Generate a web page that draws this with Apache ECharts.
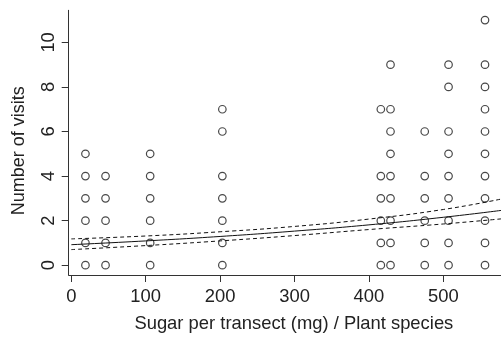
<!DOCTYPE html>
<html>
<head>
<meta charset="utf-8">
<script src="https://cdn.jsdelivr.net/npm/echarts@6/dist/echarts.min.js"></script>
<style>
  html, body { margin: 0; padding: 0; background: #fff; }
  #chart { width: 501px; height: 338px; }
</style>
</head>
<body>
<div id="chart"></div>
<script>
// sugar per transect (x) of each plant species column
const sugar = [19, 46, 106, 203, 416, 429, 475, 507, 556];
// number of visits observed in each column
const visits = [
  [0, 1, 2, 3, 4, 5],
  [0, 1, 2, 3, 4],
  [0, 1, 2, 3, 4, 5],
  [0, 1, 2, 3, 4, 6, 7],
  [0, 1, 2, 3, 4, 7],
  [0, 1, 2, 3, 4, 5, 6, 7, 9],
  [0, 1, 2, 3, 4, 6],
  [0, 1, 2, 3, 4, 5, 6, 8, 9],
  [0, 1, 2, 3, 4, 5, 6, 7, 8, 9, 11]
];
// fitted curve and confidence band
const fitX = [0, 100, 200, 300, 400, 500, 578];
const fitMean = [0.92, 1.09, 1.29, 1.53, 1.81, 2.15, 2.46];
const fitUpper = [1.18, 1.31, 1.50, 1.74, 2.07, 2.50, 2.97];
const fitLower = [0.70, 0.88, 1.09, 1.33, 1.60, 1.85, 2.08];
const xTicks = [0, 100, 200, 300, 400, 500];
const yTicks = [0, 2, 4, 6, 8, 10];

const font = 'Liberation Sans, Arial, sans-serif';
const axisColor = '#333';

let points = [];
sugar.forEach((x, i) => {
  visits[i].forEach(v => points.push([x, v]));
});

function pairs(ys) {
  return fitX.map((x, i) => [x, ys[i]]);
}

let option = {
  animation: false,
  grid: {
    left: 68.7,
    top: 10.3,
    width: 437.5,
    height: 267.3
  },
  xAxis: {
    type: 'value',
    min: -3.5,
    max: 577.5,
    name: 'Sugar per transect (mg) / Plant species',
    nameLocation: 'middle',
    nameGap: 40,
    nameTextStyle: {
      fontFamily: font,
      fontSize: 18.4,
      color: '#222',
      padding: [0, 0, 0, 18]
    },
    splitLine: { show: false },
    axisLine: { onZero: false, lineStyle: { color: axisColor, width: 1 } },
    axisTick: {
      length: 7,
      lineStyle: { color: axisColor },
      customValues: xTicks
    },
    axisLabel: {
      fontFamily: font,
      fontSize: 18.4,
      color: '#222',
      margin: 13,
      customValues: xTicks
    }
  },
  yAxis: {
    type: 'value',
    min: -0.44,
    max: 11.44,
    name: 'Number of visits',
    nameLocation: 'middle',
    nameGap: 41,
    nameRotate: 90,
    nameTextStyle: {
      fontFamily: font,
      fontSize: 18,
      color: '#222',
      padding: [0, 16, 0, 0]
    },
    splitLine: { show: false },
    axisLine: { show: true, onZero: false, lineStyle: { color: axisColor, width: 1 } },
    axisTick: {
      show: true,
      length: 7,
      lineStyle: { color: axisColor },
      customValues: yTicks
    },
    axisLabel: {
      fontFamily: font,
      fontSize: 18.4,
      color: '#222',
      rotate: 90,
      margin: 11,
      customValues: yTicks
    }
  },
  series: [
    {
      type: 'scatter',
      data: points,
      symbol: 'circle',
      symbolSize: 7.5,
      itemStyle: { color: '#fff', borderColor: '#1a1a1a', borderWidth: 1.2 }
    },
    {
      type: 'line',
      data: pairs(fitMean),
      smooth: true,
      showSymbol: false,
      lineStyle: { color: '#111', width: 1 }
    },
    {
      type: 'line',
      data: pairs(fitUpper),
      smooth: true,
      showSymbol: false,
      lineStyle: { color: '#111', width: 1, type: [4, 3] }
    },
    {
      type: 'line',
      data: pairs(fitLower),
      smooth: true,
      showSymbol: false,
      lineStyle: { color: '#111', width: 1, type: [4, 3] }
    }
  ]
};

let myChart = echarts.init(document.getElementById('chart'));
myChart.setOption(option);
</script>
</body>
</html>
